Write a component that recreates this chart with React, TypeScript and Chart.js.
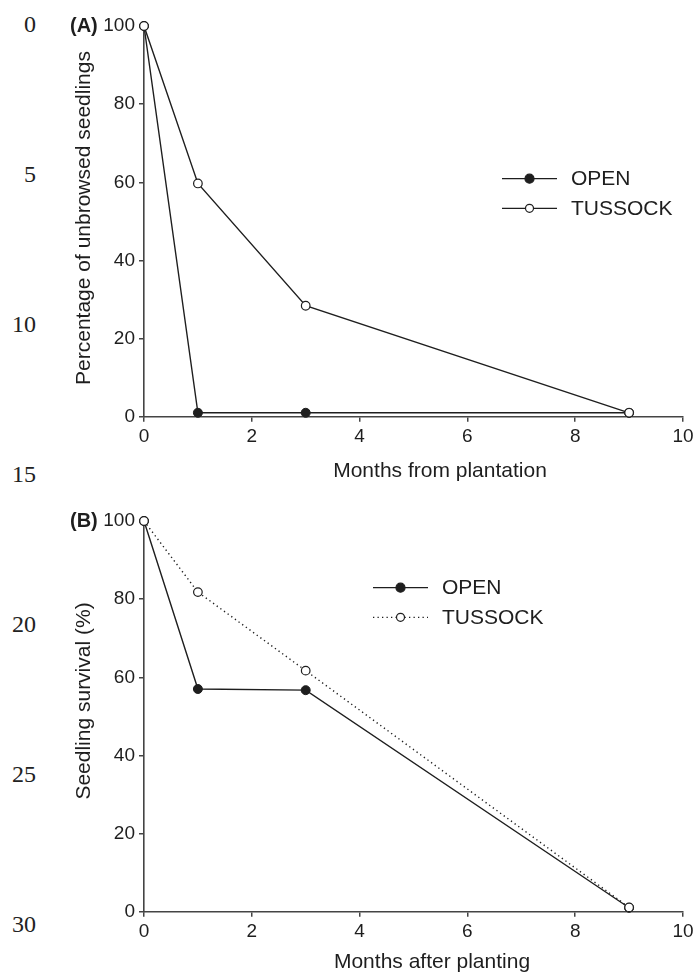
import React, { useEffect, useRef } from "react";
import { Chart, registerables } from "chart.js";

Chart.register(...registerables);

// ---- Data ----
const monthsA = [0, 1, 3, 9];
const openA = [100, 1, 1, 1];
const tussockA = [100, 59.7, 28.4, 1];

const monthsB = [0, 1, 3, 9];
const openB = [100, 57, 56.7, 1];
const tussockB = [100, 81.8, 61.7, 1.1];

const xTicks = [0, 2, 4, 6, 8, 10];
const yTicks = [0, 20, 40, 60, 80, 100];
const lineNumbers = ["0", "5", "10", "15", "20", "25", "30"];

const seriesNames = ["OPEN", "TUSSOCK"];

const INK = "#1e1e1e";
const AXIS = "#444";
const SANS = "'Liberation Sans', Arial, sans-serif";

type PanelCfg = {
  letter: string;
  yTitle: string;
  xTitle: string;
  xTitleX: number;
  xTitleY: number;
  yTitleX: number;
  yTitleY: number;
  letterY: number;
  legendX0: number;
  legendY0: number;
  tussockDash: number[];
};

function toPts(xs: number[], ys: number[]) {
  return xs.map((x, i) => ({ x, y: ys[i] }));
}

function makeChart(
  canvas: HTMLCanvasElement,
  open: number[],
  tussock: number[],
  months: number[],
  padTop: number,
  padBottom: number,
  cfg: PanelCfg
) {
  const overlay = {
    id: "overlay" + cfg.letter,
    afterDraw(chart: any) {
      const ctx = chart.ctx as CanvasRenderingContext2D;
      ctx.save();
      ctx.fillStyle = INK;
      // panel letter
      ctx.font = `bold 20px ${SANS}`;
      ctx.textAlign = "left";
      ctx.textBaseline = "middle";
      ctx.fillText(cfg.letter, 70, cfg.letterY);
      // x title
      ctx.font = `21px ${SANS}`;
      ctx.textAlign = "center";
      ctx.textBaseline = "alphabetic";
      ctx.fillText(cfg.xTitle, cfg.xTitleX, cfg.xTitleY);
      // y title
      ctx.save();
      ctx.translate(cfg.yTitleX, cfg.yTitleY);
      ctx.rotate(-Math.PI / 2);
      ctx.textAlign = "center";
      ctx.textBaseline = "middle";
      ctx.fillText(cfg.yTitle, 0, 0);
      ctx.restore();
      // legend
      const rows = [
        { name: seriesNames[0], filled: true, dash: [] as number[] },
        { name: seriesNames[1], filled: false, dash: cfg.tussockDash },
      ];
      rows.forEach((r, i) => {
        const y = cfg.legendY0 + i * 29.6;
        const x0 = cfg.legendX0;
        ctx.strokeStyle = INK;
        ctx.lineWidth = 1.3;
        ctx.setLineDash(r.dash);
        ctx.beginPath();
        ctx.moveTo(x0, y);
        ctx.lineTo(x0 + 55, y);
        ctx.stroke();
        ctx.setLineDash([]);
        ctx.beginPath();
        ctx.arc(x0 + 27.5, y, r.filled ? 4.5 : 4, 0, Math.PI * 2);
        ctx.fillStyle = r.filled ? INK : "#fff";
        ctx.fill();
        ctx.lineWidth = 1.2;
        ctx.stroke();
        ctx.fillStyle = INK;
        ctx.font = `21px ${SANS}`;
        ctx.textAlign = "left";
        ctx.textBaseline = "middle";
        ctx.fillText(r.name, x0 + 69, y + 1);
      });
      ctx.restore();
    },
  };

  return new Chart(canvas, {
    type: "line",
    data: {
      datasets: [
        {
          label: seriesNames[1],
          data: toPts(months, tussock),
          borderColor: INK,
          borderWidth: 1.4,
          borderDash: cfg.tussockDash,
          pointRadius: 4.3,
          pointBackgroundColor: "#fff",
          pointBorderColor: INK,
          pointBorderWidth: 1.2,
          tension: 0,
          clip: false as any,
          order: 0,
        },
        {
          label: seriesNames[0],
          data: toPts(months, open),
          borderColor: INK,
          borderWidth: 1.4,
          pointRadius: 4.5,
          pointBackgroundColor: INK,
          pointBorderColor: INK,
          pointBorderWidth: 1,
          tension: 0,
          clip: false as any,
          order: 1,
        },
      ],
    },
    options: {
      responsive: false,
      animation: false,
      events: [],
      layout: { padding: { left: 0, right: 15, top: padTop, bottom: padBottom } },
      plugins: { legend: { display: false }, tooltip: { enabled: false }, title: { display: false } },
      scales: {
        x: {
          type: "linear",
          min: 0,
          max: 10,
          afterFit: (s: any) => {
            s.height = 40;
          },
          afterBuildTicks: (s: any) => {
            s.ticks = xTicks.map((v) => ({ value: v }));
          },
          ticks: { color: INK, font: { family: SANS, size: 19 }, padding: 4, maxRotation: 0, autoSkip: false },
          grid: { drawOnChartArea: false, drawTicks: true, tickLength: 5, color: AXIS, lineWidth: 1.5 },
          border: { display: true, color: AXIS, width: 1.6 },
        },
        y: {
          type: "linear",
          min: 0,
          max: 100,
          afterFit: (s: any) => {
            s.width = 144;
          },
          afterBuildTicks: (s: any) => {
            s.ticks = yTicks.map((v) => ({ value: v }));
          },
          ticks: { color: INK, font: { family: SANS, size: 19 }, padding: 4, autoSkip: false },
          grid: { drawOnChartArea: false, drawTicks: true, tickLength: 5, color: AXIS, lineWidth: 1.5 },
          border: { display: true, color: AXIS, width: 1.6 },
        },
      },
    },
    plugins: [overlay],
  } as any);
}

export default function App() {
  const refA = useRef<HTMLCanvasElement>(null);
  const refB = useRef<HTMLCanvasElement>(null);

  useEffect(() => {
    const a = makeChart(refA.current!, openA, tussockA, monthsA, 26, 490 - 416.7 - 40, {
      letter: "(A)",
      yTitle: "Percentage of unbrowsed seedlings",
      xTitle: "Months from plantation",
      xTitleX: 440,
      xTitleY: 477,
      yTitleX: 84,
      yTitleY: 218,
      letterY: 26,
      legendX0: 502,
      legendY0: 178.7,
      tussockDash: [],
    });
    const b = makeChart(refB.current!, openB, tussockB, monthsB, 31, 487 - 421.7 - 40, {
      letter: "(B)",
      yTitle: "Seedling survival (%)",
      xTitle: "Months after planting",
      xTitleX: 432,
      xTitleY: 478,
      yTitleX: 84,
      yTitleY: 211,
      letterY: 31,
      legendX0: 373,
      legendY0: 97.7,
      tussockDash: [1.3, 3.2],
    });
    return () => {
      a.destroy();
      b.destroy();
    };
  }, []);

  return (
    <div style={{ position: "absolute", left: 0, top: 0, width: 698, height: 977, background: "#fff" }}>
      {lineNumbers.map((t, i) => (
        <div
          key={t}
          style={{
            position: "absolute",
            right: 698 - 36,
            top: 24 + i * 150 - 15,
            height: 30,
            lineHeight: "30px",
            fontFamily: "'Liberation Serif', 'Times New Roman', serif",
            fontSize: 24,
            color: "#222",
            textAlign: "right",
          }}
        >
          {t}
        </div>
      ))}
      <canvas ref={refA} width={698} height={490} style={{ position: "absolute", left: 0, top: 0, width: 698, height: 490 }} />
      <canvas ref={refB} width={698} height={487} style={{ position: "absolute", left: 0, top: 490, width: 698, height: 487 }} />
    </div>
  );
}
